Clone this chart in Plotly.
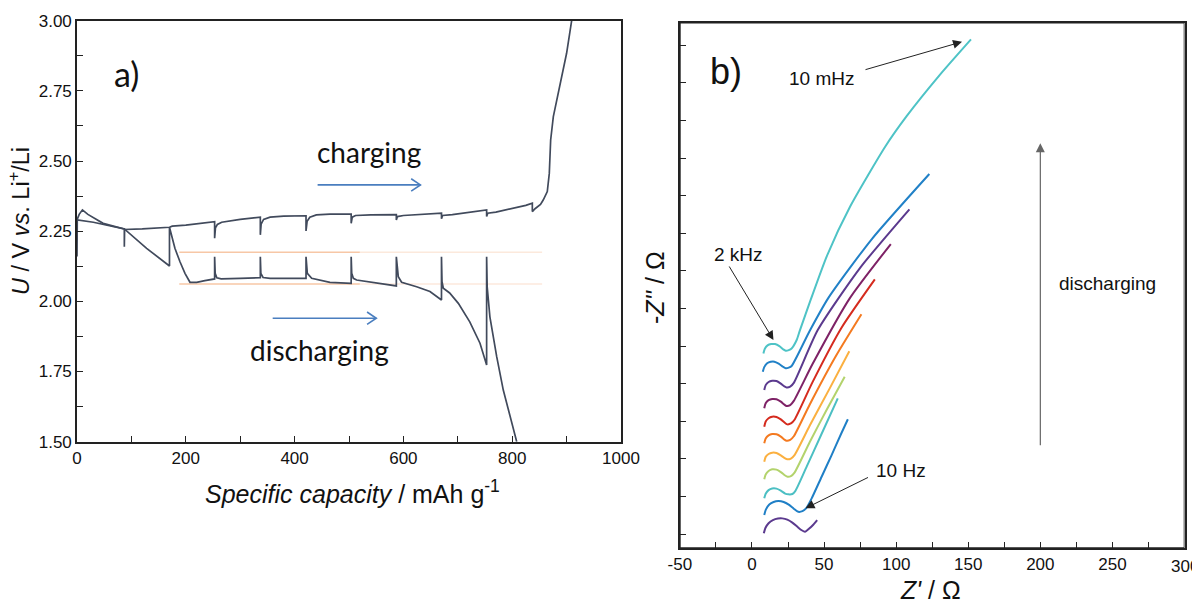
import plotly.graph_objects as go

W, H = 1192, 605

# ---------------- Panel a) : GITT profile ----------------
charge_cap = [0, 0.5, 30, 60, 87, 87, 87.5, 120, 170, 175, 200, 253, 253, 254.5, 258, 266, 300, 337, 337, 338.5,
              343, 355, 380, 421, 421, 423, 428, 440, 465, 504, 504, 506, 512, 540, 587, 587, 589, 600, 640,
              670, 670, 672, 690, 720, 753, 753, 755, 770, 800, 825, 837, 837, 842, 852, 857, 864.5, 868.2,
              870.7, 875.6, 884.8, 900, 909.3]
charge_u = [2.16, 2.29, 2.282, 2.27, 2.258, 2.195, 2.256, 2.258, 2.264, 2.268, 2.272, 2.284, 2.225, 2.262, 2.274,
            2.282, 2.292, 2.300, 2.237, 2.275, 2.292, 2.300, 2.304, 2.305, 2.251, 2.285, 2.300, 2.308, 2.311,
            2.311, 2.278, 2.300, 2.306, 2.308, 2.309, 2.290, 2.302, 2.306, 2.310, 2.314, 2.294, 2.306, 2.309,
            2.316, 2.326, 2.302, 2.314, 2.318, 2.330, 2.342, 2.350, 2.320, 2.330, 2.345, 2.361, 2.391, 2.456,
            2.575, 2.658, 2.741, 2.884, 3.00]

discharge_cap = [0, 4, 10, 20, 48, 87, 128, 170, 170, 174, 180, 189.3, 198.5, 207.7, 220, 235, 253, 253, 254, 257,
                 265, 300, 337, 337, 338, 342, 355, 421, 421, 423.4, 431.4, 465, 504, 504, 505, 508, 514, 587,
                 587, 590.6, 596.7, 624.3, 648.8, 670, 670, 671, 673.4, 685, 701, 722, 740.8, 753, 753, 754,
                 759, 771.5, 783.6, 796, 808.3]
discharge_u = [2.29, 2.31, 2.326, 2.31, 2.278, 2.258, 2.189, 2.126, 2.264, 2.231, 2.189, 2.141, 2.100, 2.068, 2.068,
               2.074, 2.080, 2.159, 2.100, 2.084, 2.080, 2.082, 2.084, 2.159, 2.100, 2.085, 2.082, 2.082, 2.159,
               2.100, 2.082, 2.068, 2.064, 2.159, 2.100, 2.082, 2.076, 2.055, 2.159, 2.088, 2.068, 2.052, 2.035,
               2.005, 2.159, 2.070, 2.047, 2.030, 1.993, 1.927, 1.851, 1.773, 2.159, 2.052, 1.945, 1.803, 1.684,
               1.589, 1.50]

ocv_levels = [2.175, 2.062]
ocv_cap_left = [188, 520]
ocv_cap_right = [520, 855]

# ---------------- Panel b) : impedance spectra ----------------
spectra = [
    ("#5b3a8e", [8.2, 9.3, 11.5, 14.5, 18, 21, 24.5, 28, 31.5, 34.5, 36.8, 39.5, 42.5, 45.2],
                [0.5, 4.0, 7.2, 9.3, 10.3, 10.4, 9.6, 7.6, 4.8, 2.5, 1.5, 3.5, 6.2, 9.3]),
    ("#1f7fc6", [8.5, 9.6, 12, 15, 18.3, 22, 25.5, 29, 32.1, 35, 37.5, 41.4, 48.3, 55, 62, 66.5],
                [12.6, 16.2, 19.6, 21.3, 21.9, 21.3, 19.5, 16.8, 14.8, 15.2, 17.0, 23.7, 38.1, 52, 67, 76.3]),
    ("#4bbfc3", [8.5, 9.5, 11.5, 14, 17, 20, 23, 25.2, 28, 30, 38, 48, 59.5],
                [23.7, 26.8, 29.2, 30.3, 30.2, 28.8, 26.9, 26.4, 26.6, 28.5, 45, 66, 90.2]),
    ("#b3d36c", [8.5, 9.5, 11.5, 14, 17, 20, 23, 24.7, 27, 29.5, 40, 52, 64.3],
                [36.4, 39.6, 41.9, 43, 42.8, 41.2, 38.9, 38.1, 38.5, 40.8, 61, 83, 104.6]),
    ("#fbb040", [8.5, 9.5, 11.5, 14, 17, 20, 22.7, 24.5, 27, 29.5, 40, 54, 67.5],
                [48.1, 51.3, 53.2, 54.1, 53.9, 52.3, 50.5, 49.7, 50.2, 52.5, 72, 97, 121.5]),
    ("#f47a20", [8.5, 9.5, 11.5, 14, 17, 20, 22.5, 24, 26.5, 29, 40, 58, 75.9],
                [60.3, 63.5, 65.6, 66.5, 66.3, 64.8, 62.8, 62, 62.6, 65, 86, 118, 146.1]),
    ("#d52b1e", [8.5, 9.5, 11.5, 14, 17, 20, 23, 24.5, 27, 29.5, 42, 62, 85.2],
                [71.3, 74.8, 77.0, 78, 77.8, 76.2, 73.8, 72.9, 73.5, 76, 101, 137, 169.3]),
    ("#7e2266", [8.5, 9.5, 11.5, 14, 17, 20, 22.5, 24, 26.5, 29, 42, 68, 96.3],
                [83.6, 87, 89, 89.8, 89.6, 88, 86, 85.1, 85.7, 88.5, 113, 157, 192.8]),
    ("#5b3a8e", [8.5, 9.5, 11.5, 14, 17, 20, 22.5, 24, 26.5, 29, 45.6, 75, 109.2],
                [95.7, 99, 101.1, 101.9, 101.7, 100, 98.2, 97.5, 98, 100.5, 135.6, 177, 215.9]),
    ("#2181c7", [7.5, 8.5, 10.5, 13, 15.5, 18.5, 21.5, 23.4, 25.5, 27.5, 40, 53, 83, 123],
                [107.9, 111, 113.5, 114.5, 114.6, 113.3, 111.2, 110.2, 110.6, 111.7, 135, 157, 196, 239.4]),
    ("#4ec3c6", [7.9, 8.9, 10.8, 13.3, 16, 19, 21.7, 23.4, 25.5, 27.5, 31, 33.3, 40.8, 52, 68, 92.7, 107.4, 130, 151.9],
                [120.1, 123.2, 125.4, 126.3, 126.3, 125, 122.8, 121.9, 122.3, 123.4, 129, 135.6, 156, 185, 217.6,
                 258, 278, 305, 328.9]),
]

ZX_RANGE = [-50, 300]
ZY_RANGE = [-9.3, 340]
zx_ticks = [-50, -25, 0, 25, 50, 75, 100, 125, 150, 175, 200, 225, 250, 275, 300]
zx_labels = ["-50", "", "0", "", "50", "", "100", "", "150", "", "200", "", "250", "", "300"]
zy_ticks = [0, 25, 50, 75, 100, 125, 150, 175, 200, 225, 250, 275, 300, 325]

CURVE = "#414a5c"
AX = "#222222"
SANS = "Liberation Sans"
CAL = "Lato"

FRAME_A = (77, 20.7, 621, 441.7)
FRAME_B = (679.9, 22.7, 1184.5, 548)

fig = go.Figure()

for lv in ocv_levels:
    fig.add_trace(go.Scatter(x=ocv_cap_left, y=[lv, lv], mode="lines",
                             line=dict(color="#f7c7a6", width=1.5), xaxis="x", yaxis="y"))
    fig.add_trace(go.Scatter(x=ocv_cap_right, y=[lv, lv], mode="lines",
                             line=dict(color="#fce9dc", width=1.5), xaxis="x", yaxis="y"))

fig.add_trace(go.Scatter(x=charge_cap, y=charge_u, mode="lines", line=dict(color=CURVE, width=1.7),
                         xaxis="x", yaxis="y"))
fig.add_trace(go.Scatter(x=discharge_cap, y=discharge_u, mode="lines", line=dict(color=CURVE, width=1.7),
                         xaxis="x", yaxis="y"))

for col, xs, ys in spectra:
    fig.add_trace(go.Scatter(x=xs, y=ys, mode="lines",
                             line=dict(color=col, width=2, shape="spline", smoothing=0.6),
                             xaxis="x2", yaxis="y2"))

# frame of panel b) drawn along the axis range limits
fig.add_trace(go.Scatter(x=[ZX_RANGE[0], ZX_RANGE[1], ZX_RANGE[1], ZX_RANGE[0], ZX_RANGE[0]],
                         y=[ZY_RANGE[0], ZY_RANGE[0], ZY_RANGE[1], ZY_RANGE[1], ZY_RANGE[0]],
                         mode="lines", line=dict(color=AX, width=1.6), cliponaxis=False,
                         xaxis="x2", yaxis="y2"))

tickfont = dict(family=SANS, size=17, color="#111")
common = dict(ticks="inside", ticklen=6, tickwidth=1.3, tickcolor=AX, showline=True, linecolor=AX,
              linewidth=1.6, mirror=True, showgrid=False, zeroline=False, automargin=False)

fig.update_layout(
    width=W, height=H, autosize=False,
    margin=dict(l=0, r=0, t=0, b=0),
    paper_bgcolor="white", plot_bgcolor="white",
    showlegend=False,
    xaxis=dict(domain=[FRAME_A[0] / W, FRAME_A[2] / W], range=[0, 1000], anchor="y",
               tickvals=[0, 200, 400, 600, 800, 1000],
               minor=dict(tickvals=[100, 300, 500, 700, 900], ticks="inside", ticklen=6, tickwidth=1.3,
                          tickcolor=AX, showgrid=False),
               tickfont=tickfont, **common),
    yaxis=dict(domain=[1 - FRAME_A[3] / H, 1 - FRAME_A[1] / H], range=[1.5, 3.0], anchor="x",
               tickvals=[1.5, 1.75, 2.0, 2.25, 2.5, 2.75, 3.0], tickformat=".2f",
               minor=dict(tickvals=[1.625, 1.875, 2.125, 2.375, 2.625, 2.875], ticks="inside", ticklen=6,
                          tickwidth=1.3, tickcolor=AX, showgrid=False),
               tickfont=tickfont, **common),
    xaxis2=dict(domain=[FRAME_B[0] / W, FRAME_B[2] / W], range=ZX_RANGE, anchor="y2",
                tickvals=zx_ticks, ticktext=zx_labels, tickfont=tickfont, **common),
    yaxis2=dict(domain=[1 - FRAME_B[3] / H, 1 - FRAME_B[1] / H], range=ZY_RANGE, anchor="x2",
                tickvals=zy_ticks, showticklabels=False, **common),
)


def pa(px, py, text, size, family=SANS, angle=0, xanchor="center"):
    return dict(x=px / W, y=1 - py / H, xref="paper", yref="paper", text=text, showarrow=False,
                font=dict(family=family, size=size, color="#111"), textangle=angle,
                xanchor=xanchor, yanchor="middle")


annotations = [
    pa(126, 73, "a)", 34, CAL),
    pa(369, 152, "charging", 28, CAL),
    pa(319, 350, "discharging", 28, CAL),
    pa(19, 221, "<i>U</i> / V <i>vs</i>. Li<sup>+</sup>/Li", 23.5, angle=-90),
    pa(353, 492, "<i>Specific capacity</i> / mAh g<sup>-1</sup>", 25),
    pa(726, 72, "b)", 36),
    pa(821, 78, "10 mHz", 19),
    pa(738, 254, "2 kHz", 19),
    pa(901, 470, "10 Hz", 19),
    pa(1107, 283, "discharging", 19),
    pa(655, 288, "-<i>Z''</i> / Ω", 25, angle=-90),
    pa(930, 590, "<i>Z'</i> / Ω", 25),
    pa(1184.5, 566, "300", 17),
]


def arrow(x, y, ax, ay, color="#222", width=1.0, size=1.8):
    return dict(x=x, y=y, ax=ax, ay=ay, xref="x2", yref="y2", axref="x2", ayref="y2", text="",
                showarrow=True, arrowhead=2, arrowsize=size, arrowwidth=width, arrowcolor=color)


annotations += [
    arrow(145.7, 327.3, 77.7, 308.5),
    arrow(14.9, 129, -16.4, 178.9),
    arrow(37.1, 17.1, 81.5, 38.1),
    arrow(200, 259.8, 200, 58, color="#666", width=1.2, size=1.5),
]
fig.update_layout(annotations=annotations)

BLUE = "#4a7ebf"
for (x0, x1, yv) in [(442.3, 631.3, 2.415), (359.7, 550.2, 1.940)]:
    fig.add_shape(type="line", x0=x0, x1=x1, y0=yv, y1=yv, xref="x", yref="y",
                  line=dict(color=BLUE, width=1.6))
    fig.add_shape(type="path", xref="x", yref="y",
                  path=f"M {x1 - 17} {yv + 0.022} L {x1} {yv} L {x1 - 17} {yv - 0.022}",
                  line=dict(color=BLUE, width=1.6))

fig.write_html("out.html", config={"displayModeBar": False},
               post_script="document.body.style.margin='0px';document.body.style.overflow='hidden';")
